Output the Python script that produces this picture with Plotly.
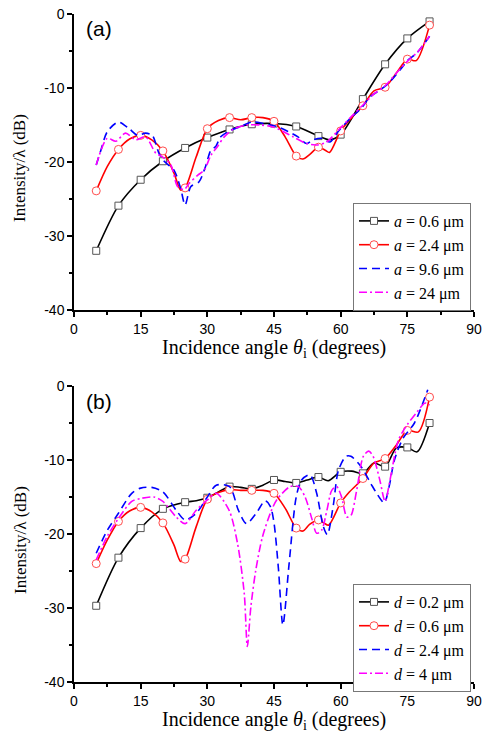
import plotly.graph_objects as go

# ---------------- Panel (a): varying a ----------------
a06_x = [5, 10, 15, 20, 25, 30, 35, 40, 45, 50, 55, 57.5, 60, 65, 70, 75, 80]
a06_y = [-32.0, -25.9, -22.4, -19.9, -18.1, -16.7, -15.6, -14.9, -14.8, -15.2, -16.5, -17.0, -16.3, -11.5, -6.8, -3.3, -1.0]

a24_x = [5, 7.5, 10, 12.5, 15, 17.5, 20, 22.5, 24, 25, 27.5, 30, 32.5, 35, 37.5, 40, 42.5, 45, 47.5, 50, 51.5, 53, 55, 56.5, 57.5, 60, 62.5, 65, 67.5, 70, 72.5, 75, 77, 80]
a24_y = [-23.9, -20.6, -18.3, -16.9, -16.4, -17.0, -18.5, -21.5, -23.8, -23.5, -19.3, -15.5, -14.4, -14.0, -14.3, -14.0, -14.0, -14.5, -16.6, -19.2, -19.6, -19.0, -18.0, -18.4, -18.7, -15.8, -14.0, -12.4, -10.4, -9.9, -8.0, -6.1, -6.3, -1.5]

a96_x = [5, 6, 7.5, 10, 12.4, 14.3, 16.1, 17.6, 19.1, 20.3, 22.5, 24, 25, 26.3, 28.1, 29.6, 30.8, 31.9, 33, 35.3, 37.5, 40, 42.6, 45.6, 48.2, 50.4, 52.3, 53.8, 55.7, 57.6, 59.4, 62, 64.7, 66.6, 68.8, 70.7, 73.3, 75.2, 77.1, 80]
a96_y = [-20.4, -18.5, -15.9, -14.6, -15.5, -16.4, -16.1, -16.4, -18.8, -19.9, -21.1, -23.6, -25.8, -23.3, -22.7, -20.6, -18.4, -17.9, -16.6, -15.7, -15.2, -14.6, -14.8, -15.2, -15.9, -16.6, -17.5, -17.0, -16.8, -17.3, -15.9, -14.2, -12.7, -11.2, -10.3, -9.4, -7.6, -6.2, -5.3, -3.0]

a240_x = [5, 7.5, 9.4, 11.6, 13.9, 16.1, 18.4, 19.9, 21.8, 23.3, 24.8, 25.9, 27.8, 29.3, 30.8, 32.3, 33.8, 36, 39, 42, 45, 49.3, 52.3, 54.6, 56.8, 59.8, 62.5, 65, 67.5, 70, 72.5, 75, 77.5, 80]
a240_y = [-20.4, -16.8, -17.2, -16.1, -17.0, -16.6, -18.8, -19.3, -20.4, -23.3, -23.7, -22.9, -21.8, -21.1, -19.1, -17.9, -16.6, -15.5, -15.0, -15.0, -15.3, -16.6, -17.5, -17.7, -17.3, -15.5, -13.8, -12.3, -10.8, -9.7, -8.0, -6.4, -5.0, -3.0]

# ---------------- Panel (b): varying d ----------------
d02_x = [5, 10, 15, 20, 25, 27.5, 30, 35, 37.5, 40, 42.5, 45, 47.5, 50, 52.5, 55, 57.2, 60, 62.5, 65, 67.5, 70, 72.5, 75, 77.2, 80]
d02_y = [-29.7, -23.2, -19.2, -16.6, -15.7, -15.5, -15.1, -13.6, -13.7, -13.9, -13.4, -12.7, -12.9, -13.1, -12.7, -12.3, -12.8, -11.6, -11.5, -11.8, -10.4, -10.9, -8.4, -8.3, -8.9, -5.0]

d06_x = [5, 7.5, 10, 12.5, 15, 17.5, 20, 22.5, 24, 25, 27.5, 30, 32.5, 35, 37.5, 40, 42.5, 45, 47.5, 50, 51.5, 53, 55, 56.2, 57.3, 60, 62, 65, 67.5, 70, 72.5, 75, 77.5, 80]
d06_y = [-24.0, -20.8, -18.3, -16.9, -16.4, -17.0, -18.5, -21.5, -23.7, -23.4, -19.0, -15.3, -14.4, -14.0, -14.1, -14.1, -14.1, -14.5, -16.5, -19.2, -19.6, -18.7, -18.1, -18.5, -18.8, -15.8, -14.3, -12.5, -10.4, -9.8, -8.0, -6.0, -6.2, -1.5]

d24_x = [5, 7.5, 10, 13, 15, 17.5, 20, 23, 25, 27.5, 30, 32, 35, 37, 38.8, 41, 43, 44.2, 45, 46, 47, 48.4, 50, 51.2, 53.1, 54.6, 56.1, 57, 58.3, 59.5, 61.2, 62.3, 64.6, 66.8, 68.3, 69.8, 70.9, 72.1, 74, 76.6, 79.6]
d24_y = [-22.6, -19.5, -17.2, -14.5, -13.8, -13.7, -14.3, -16.8, -18.1, -17.2, -15.0, -13.4, -13.6, -16.8, -18.6, -17.2, -15.5, -16.3, -18.5, -24.7, -32.3, -24.0, -15.0, -12.7, -12.0, -14.5, -19.0, -20.1, -16.3, -11.4, -9.5, -9.5, -10.9, -13.2, -14.7, -15.8, -13.6, -10.0, -7.1, -5.0, -0.5]

d4_x = [5, 7.5, 10, 13, 15, 18, 20, 23, 25, 27.5, 30, 32, 34.9, 36.8, 38.3, 39, 39.8, 40.9, 42.4, 44.3, 45.6, 48.6, 50.5, 52, 53.5, 54.6, 55.7, 56.9, 58, 59.1, 60.2, 61.4, 62.3, 63.6, 65.1, 66.3, 67.3, 68.8, 70, 71.1, 73, 74.9, 77.2, 79, 80]
d4_y = [-23.5, -20.3, -17.9, -15.6, -15.2, -15.0, -15.6, -17.7, -18.6, -16.8, -15.4, -14.5, -16.8, -21.3, -28.0, -35.2, -29.8, -24.9, -20.4, -17.0, -15.4, -13.6, -13.6, -15.0, -17.9, -19.9, -19.5, -16.8, -14.1, -13.6, -15.0, -17.7, -17.5, -14.1, -9.5, -8.8, -9.5, -12.7, -15.6, -12.7, -7.3, -5.3, -3.5, -2.3, -2.6]

x_ticks = [0, 15, 30, 45, 60, 75, 90]
x_minor = [7.5, 22.5, 37.5, 52.5, 67.5, 82.5]
y_ticks = [0, -10, -20, -30, -40]
y_tick_text = ["0", "-10", "-20", "-30", "-40"]
y_minor = [-5, -15, -25, -35]

names_a = ["<i>a</i> = 0.6 μm", "<i>a</i> = 2.4 μm", "<i>a</i> = 9.6 μm", "<i>a</i> = 24 μm"]
names_b = ["<i>d</i> = 0.2 μm", "<i>d</i> = 0.6 μm", "<i>d</i> = 2.4 μm", "<i>d</i> = 4 μm"]

W, H = 484, 745
SERIF = "Liberation Serif"
SANS = "Liberation Sans"

fig = go.Figure()

styles = [
    dict(color="#000000", dash="solid", symbol="square", mcolor="#555555", msize=7),
    dict(color="#ff0000", dash="solid", symbol="circle", mcolor="#ff4d4d", msize=8),
    dict(color="#0000ff", dash="8px,5px", symbol=None, mcolor=None, msize=0),
    dict(color="#ff00ff", dash="8px,3px,2px,3px", symbol=None, mcolor=None, msize=0),
]


def add_panel(series, names, xa, ya, legend):
    for (xs, ys), name, st in zip(series, names, styles):
        fig.add_trace(go.Scatter(
            x=xs, y=ys, mode="lines", xaxis=xa, yaxis=ya, showlegend=False,
            line=dict(color=st["color"], width=1.6, dash=st["dash"], shape="spline", smoothing=0.8),
            hoverinfo="skip"))
        kw = {}
        if st["symbol"]:
            mk = dict(symbol=st["symbol"], size=st["msize"], color="white",
                      line=dict(color=st["mcolor"], width=1))
            mx = [x for x in xs if x % 5 == 0]
            my = [y for x, y in zip(xs, ys) if x % 5 == 0]
            fig.add_trace(go.Scatter(
                x=mx, y=my, mode="markers", xaxis=xa, yaxis=ya, showlegend=False,
                marker=mk, hoverinfo="skip"))
            kw["marker"] = mk
        mode = "lines+markers" if st["symbol"] else "lines"
        fig.add_trace(go.Scatter(
            x=[None], y=[None], mode=mode, name=name, xaxis=xa, yaxis=ya, legend=legend,
            line=dict(color=st["color"], width=1.6, dash=st["dash"]), **kw))


add_panel([(a06_x, a06_y), (a24_x, a24_y), (a96_x, a96_y), (a240_x, a240_y)], names_a, "x", "y", "legend")
add_panel([(d02_x, d02_y), (d06_x, d06_y), (d24_x, d24_y), (d4_x, d4_y)], names_b, "x2", "y2", "legend2")

xdom = [74 / W, 474 / W]
ydom_a = [1 - 310 / H, 1 - 14 / H]
ydom_b = [1 - 682 / H, 1 - 386 / H]

xcommon = dict(range=[0, 90], tickmode="array", tickvals=x_ticks, showgrid=False, zeroline=False,
               showline=True, linecolor="black", linewidth=1.5, ticks="outside", ticklen=5,
               tickwidth=1.5, tickcolor="black",
               minor=dict(tickmode="array", tickvals=x_minor, ticklen=3, tickwidth=1.5, tickcolor="black", ticks="outside"),
               tickfont=dict(family=SANS, size=14, color="black"), fixedrange=True, domain=xdom)
ycommon = dict(range=[-40, 0], tickmode="array", tickvals=y_ticks, ticktext=y_tick_text, showgrid=False,
               zeroline=False, showline=True, linecolor="black", linewidth=1.5, ticks="outside",
               ticklen=5, tickwidth=1.5, tickcolor="black",
               minor=dict(tickmode="array", tickvals=y_minor, ticklen=3, tickwidth=1.5, tickcolor="black", ticks="outside"),
               tickfont=dict(family=SANS, size=14, color="black"), fixedrange=True)

legcommon = dict(xanchor="left", yanchor="top", bgcolor="white", bordercolor="#777777", borderwidth=1,
                 font=dict(family=SERIF, size=16, color="black"), tracegroupgap=0, itemwidth=30)

fig.update_layout(
    width=W, height=H, margin=dict(l=0, r=0, t=0, b=0, autoexpand=False),
    paper_bgcolor="white", plot_bgcolor="white",
    xaxis=dict(xcommon, anchor="y"),
    yaxis=dict(ycommon, anchor="x", domain=ydom_a),
    xaxis2=dict(xcommon, anchor="y2"),
    yaxis2=dict(ycommon, anchor="x2", domain=ydom_b),
    legend=dict(legcommon, x=353 / W, y=1 - 203 / H),
    legend2=dict(legcommon, x=353 / W, y=1 - 584 / H),
)

xtitle = "Incidence angle <i>θ</i><sub>i</sub> (degrees)"
ytitle = "Intensity/λ (dB)"
ann = []
for ax_bottom, top, label in [(310, 14, "(a)"), (682, 386, "(b)")]:
    ann.append(dict(text=xtitle, xref="paper", yref="paper", x=274 / W, y=1 - (ax_bottom + 38) / H,
                    xanchor="center", yanchor="middle", showarrow=False,
                    font=dict(family=SERIF, size=20, color="black")))
    ann.append(dict(text=ytitle, xref="paper", yref="paper", x=20 / W, y=1 - ((top + ax_bottom) / 2 + 6) / H,
                    xanchor="center", yanchor="middle", textangle=-90, showarrow=False,
                    font=dict(family=SERIF, size=17, color="black")))
    ann.append(dict(text=label, xref="paper", yref="paper", x=84 / W, y=1 - (top + 15) / H,
                    xanchor="left", yanchor="middle", showarrow=False,
                    font=dict(family=SANS, size=21, color="black")))
fig.update_layout(annotations=ann)

fig.write_html("out.html", config={"displayModeBar": False},
               post_script="document.body.style.margin='0px';document.body.style.overflow='hidden';")
